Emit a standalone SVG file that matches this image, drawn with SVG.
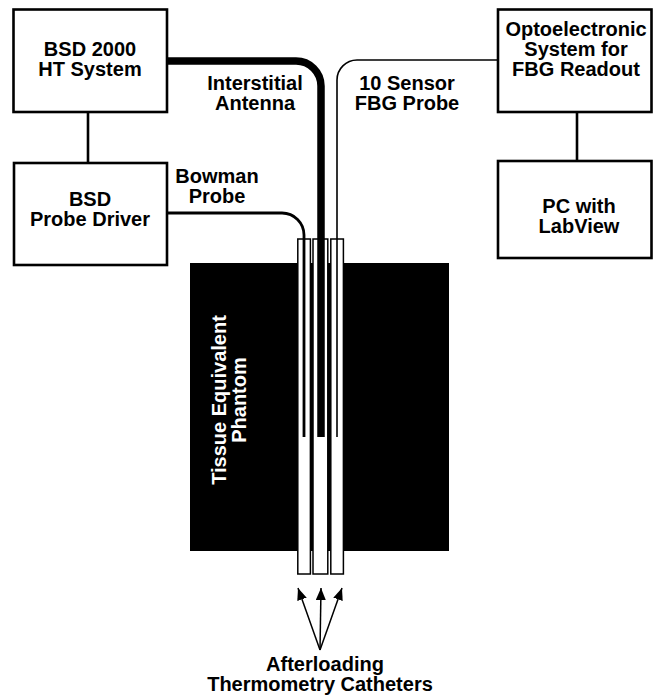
<svg xmlns="http://www.w3.org/2000/svg" width="654" height="698" viewBox="0 0 654 698">
<style>
.box{fill:#fff;stroke:#000;stroke-width:2.6}
.t{font-family:"Liberation Sans",Arial,Helvetica,sans-serif;font-weight:bold;font-size:20px;fill:#000;text-anchor:middle}
.w{fill:#fff}
.cat{fill:#fff;stroke:#000;stroke-width:1.5}
.ln{fill:none;stroke:#000}
</style>
<defs>
<marker id="ah" markerWidth="12" markerHeight="10" refX="12" refY="5" orient="auto" markerUnits="userSpaceOnUse">
<path d="M0,0 L12,5 L0,10 Z" fill="#000"/>
</marker>
</defs>
<rect width="654" height="698" fill="#fff"/>

<g id="phantom">
<rect x="190" y="263" width="259" height="288" fill="#000"/>
<text class="t w" transform="translate(226,400) rotate(-90)">Tissue Equivalent</text>
<text class="t w" transform="translate(246,400) rotate(-90)">Phantom</text>
</g>

<g id="catheters">
<rect class="cat" x="297.8" y="239" width="12.6" height="335"/>
<rect class="cat" x="313" y="239" width="14.8" height="335"/>
<rect class="cat" x="330.8" y="239" width="12.6" height="335"/>
</g>

<g id="connectors">
<line class="ln" x1="88" y1="112" x2="88" y2="163" stroke-width="2.6"/>
<line class="ln" x1="577" y1="112" x2="577" y2="160" stroke-width="2.6"/>
<path id="antenna" class="ln" d="M167,61 H296 A25,25 0 0 1 321,86 V437" stroke-width="7.5"/>
<path id="fbg" class="ln" d="M498,60 H357 A20,20 0 0 0 337,80 V437" stroke-width="1.6"/>
<path id="bowman" class="ln" d="M167,213 H282 A22,22 0 0 1 304,235 V437" stroke-width="2.8"/>
<line class="ln" x1="320" y1="650" x2="298" y2="588" stroke-width="1.5" marker-end="url(#ah)"/>
<line class="ln" x1="320" y1="650" x2="321" y2="588" stroke-width="1.5" marker-end="url(#ah)"/>
<line class="ln" x1="320" y1="650" x2="342" y2="588" stroke-width="1.5" marker-end="url(#ah)"/>
</g>

<g id="bsd2000">
<rect class="box" x="13.5" y="9.5" width="153.5" height="102.5"/>
<text class="t" x="90" y="56">BSD 2000</text>
<text class="t" x="90" y="76">HT System</text>
</g>

<g id="probedriver">
<rect class="box" x="14" y="163" width="153" height="102"/>
<text class="t" x="90" y="206">BSD</text>
<text class="t" x="90" y="226">Probe Driver</text>
</g>

<g id="opto">
<rect class="box" x="498" y="9.5" width="153.5" height="102.5"/>
<text class="t" x="576" y="36">Optoelectronic</text>
<text class="t" x="576" y="56">System for</text>
<text class="t" x="576" y="76">FBG Readout</text>
</g>

<g id="pc">
<rect class="box" x="498" y="161" width="153.5" height="97"/>
<text class="t" x="579" y="213">PC with</text>
<text class="t" x="579" y="233">LabView</text>
</g>

<g id="labels">
<text class="t" x="217" y="183">Bowman</text>
<text class="t" x="217" y="203">Probe</text>
<text class="t" x="255" y="90">Interstitial</text>
<text class="t" x="255" y="110">Antenna</text>
<text class="t" x="407" y="90">10 Sensor</text>
<text class="t" x="407" y="110">FBG Probe</text>
<text class="t" x="325" y="671">Afterloading</text>
<text class="t" x="320" y="691">Thermometry Catheters</text>
</g>
</svg>
